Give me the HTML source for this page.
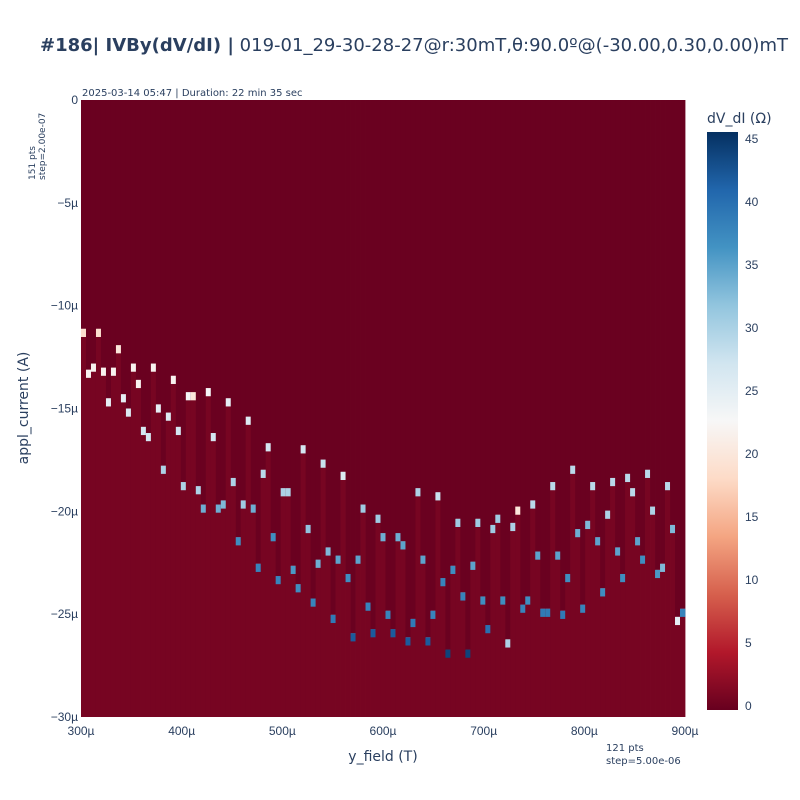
<!DOCTYPE html>
<html><head><meta charset="utf-8"><style>
body{margin:0;background:#fff;}
svg{display:block;font-family:"Liberation Sans",sans-serif;}
</style></head><body>
<svg id="chart" width="800" height="800" viewBox="0 0 800 800">
<text x="40" y="51" font-family="DejaVu Sans, sans-serif" font-size="17.5" fill="#2a3f5f" textLength="748" lengthAdjust="spacingAndGlyphs"><tspan font-weight="bold">#186| IVBy(dV/dI) |</tspan> 019-01_29-30-28-27@r:30mT,θ:90.0º@(-30.00,0.30,0.00)mT</text>
<text x="82" y="96" font-size="10" fill="#2a3f5f" font-family="DejaVu Sans, sans-serif">2025-03-14 05:47 | Duration: 22 min 35 sec</text>
<text transform="translate(35,180) rotate(-90)" font-size="9" fill="#2a3f5f" font-family="DejaVu Sans, sans-serif"><tspan x="0" y="0">151 pts</tspan><tspan x="0" y="10">step=2.00e-07</tspan></text>
<text x="606" y="751" font-size="10" fill="#2a3f5f" font-family="DejaVu Sans, sans-serif"><tspan x="606" y="751">121 pts</tspan><tspan x="606" y="764">step=5.00e-06</tspan></text>
<g id="plot"></g>
<g id="xaxis"></g>
<g id="yaxis"></g>
<text x="383" y="761" font-size="14" fill="#2a3f5f" text-anchor="middle" font-family="DejaVu Sans, sans-serif">y_field (T)</text>
<text transform="translate(28,408) rotate(-90)" font-size="14" fill="#2a3f5f" text-anchor="middle" font-family="DejaVu Sans, sans-serif">appl_current (A)</text>
<defs><linearGradient id="cbgrad" x1="0" y1="1" x2="0" y2="0"></linearGradient></defs>
<rect x="707" y="132" width="31" height="578" fill="url(#cbgrad)"/>
<g id="cbaxis"></g>
<text x="707" y="123" font-size="14" fill="#2a3f5f" font-family="DejaVu Sans, sans-serif">dV_dI (Ω)</text>
</svg>
<script>
// ---- data ----
const xStartUT = 300, xStepUT = 5, nCols = 121;
const yStartUA = 0, yStepUA = -0.2, nRows = 151;
// transition current (µA) per column
const transitionUA = [-11.3,-13.3,-13.0,-11.3,-13.2,-14.7,-13.2,-12.1,-14.5,-15.2,-13.0,-13.8,-16.1,-16.4,-13.0,-15.0,-18.0,-15.4,-13.6,-16.1,-18.8,-14.4,-14.4,-19.0,-19.9,-14.2,-16.4,-19.9,-19.7,-14.7,-18.6,-21.5,-19.7,-15.6,-19.9,-22.8,-18.2,-16.9,-21.3,-23.4,-19.1,-19.1,-22.9,-23.8,-17.0,-20.9,-24.5,-22.6,-17.7,-22.0,-25.3,-22.4,-18.3,-23.3,-26.2,-22.4,-19.9,-24.7,-26.0,-20.4,-21.3,-25.1,-26.0,-21.3,-21.7,-26.4,-25.5,-19.1,-22.4,-26.4,-25.1,-19.3,-23.5,-27.0,-22.9,-20.6,-24.2,-27.0,-22.7,-20.6,-24.4,-25.8,-20.9,-20.4,-24.4,-26.5,-20.8,-20.0,-24.8,-24.4,-19.7,-22.2,-25.0,-25.0,-18.8,-22.2,-25.1,-23.3,-18.0,-21.1,-24.8,-20.7,-18.8,-21.5,-24.0,-20.2,-18.6,-22.0,-23.3,-18.4,-19.1,-21.5,-22.4,-18.2,-20.0,-23.1,-22.8,-18.8,-20.9,-25.4,-25.0];
// peak dV/dI (Ω) at transition per column
const peakOhm = [19,22,22,19,22,25,22,20,25,26,22,22,27,27,22,25,30,26,22,27,30,23,20,30,34,23,27,34,33,25,30,37,31,26,34,38,29,27,37,38,30,30,36,37,27,32,38,34,28,33,39,35,26,37,42,35,31,38,42,31,34,38,42,34,35,42,39,30,35,42,38,28,38,44,37,31,38,44,35,31,37,40,31,31,37,30,30,20,38,37,29,35,39,39,29,35,39,37,29,34,38,33,29,35,37,30,29,35,37,29,29,35,37,29,30,36,33,29,33,25,38];
const aboveOhm = 0.2, belowOhm = 1.0;
const cbTicks = [0,5,10,15,20,25,30,35,40,45];
const xTicks = [300,400,500,600,700,800,900];
const yTicks = [0,-5,-10,-15,-20,-25,-30];
// ---- scales ----
const X0=81,X1=685,Y0=100,Y1=717;
const colW=(X1-X0)/nCols, rowH=(Y1-Y0)/nRows;
const xPix = v => X0 + (v - (xStartUT - xStepUT/2)) / (nCols*xStepUT) * (X1-X0);
const yPix = v => Y0 + (v - (yStartUA - yStepUA/2)) / (nRows*yStepUA) * (Y1-Y0);
const xAx = v => X0 + (v-300)/600*(X1-X0);
const yAx = v => Y0 + (v-0)/(-30)*(Y1-Y0);
const CB0=706, CB1=139; const cbPix = v => CB0 + v/45*(CB1-CB0);
const stops=[[103,0,31],[178,24,43],[214,96,77],[244,165,130],[253,219,199],[247,247,247],[209,229,240],[146,197,222],[67,147,195],[33,102,172],[5,48,97]];
const zmax=45.6;
function col(v){let t=Math.max(0,Math.min(1,v/zmax))*10;let i=Math.min(9,Math.floor(t));let f=t-i;let a=stops[i],b=stops[i+1];
 return 'rgb('+a.map((c,k)=>Math.round(c+(b[k]-c)*f)).join(',')+')';}
const NS='http://www.w3.org/2000/svg';
function mk(tag,attrs,parent){const e=document.createElementNS(NS,tag);for(const k in attrs)e.setAttribute(k,attrs[k]);parent.appendChild(e);return e;}
// gradient
const g=document.getElementById('cbgrad');
stops.forEach((s,i)=>mk('stop',{offset:(i/10*100)+'%','stop-color':'rgb('+s.join(',')+')'},g));
// heatmap
const plot=document.getElementById('plot');
for(let i=0;i<nCols;i++){
  const xv=xStartUT+i*xStepUT;
  const xl=xPix(xv-xStepUT/2), w=colW+0.4;
  const tr=transitionUA[i];
  const ty=yPix(tr+0.2);
  const a=mk('rect',{x:xl,y:Y0,width:w,height:ty-Y0,fill:col(aboveOhm)},plot);
  
  
  const b=mk('rect',{x:xl,y:ty,width:w,height:Y1-ty,fill:col(belowOhm)},plot);
  
  
  const p=mk('rect',{x:xl,y:yPix(tr+0.2),width:w,height:2*rowH,fill:col(peakOhm[i])},plot);
  
  
}
// axes
const xa=document.getElementById('xaxis');
xTicks.forEach(v=>{const t=mk('text',{x:xAx(v),y:735,'font-size':12,fill:'#2a3f5f','text-anchor':'middle'},xa);t.textContent=v+'µ';
 
 });
const ya=document.getElementById('yaxis');
yTicks.forEach(v=>{const t=mk('text',{x:78,y:yAx(v)+4,'font-size':12,fill:'#2a3f5f','text-anchor':'end'},ya);t.textContent=v===0?'0':('−'+(-v)+'µ');
 
 });
const ca=document.getElementById('cbaxis');
cbTicks.forEach(v=>{const t=mk('text',{x:745,y:cbPix(v)+4,'font-size':12,fill:'#2a3f5f'},ca);t.textContent=v;
 
 });
</script>
</body></html>
